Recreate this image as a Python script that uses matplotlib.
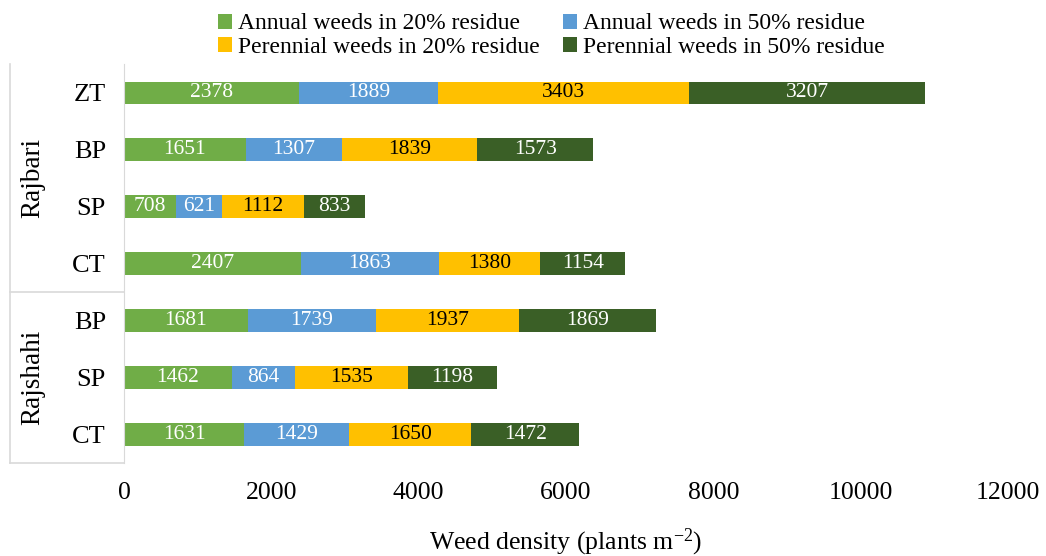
import numpy as np
import matplotlib
matplotlib.use("Agg")
import matplotlib.pyplot as plt
from matplotlib.lines import Line2D

plt.rcParams['font.family'] = ['Liberation Serif', 'DejaVu Serif']
plt.rcParams['mathtext.fontset'] = 'custom'
plt.rcParams['mathtext.rm'] = 'Liberation Serif'
plt.rcParams['mathtext.default'] = 'regular'

# ==========================================
# Données (de haut en bas)
# ==========================================
tillage = ["ZT", "BP", "SP", "CT", "BP", "SP", "CT"]
sites = ["Rajbari", "Rajshahi"]
site_rows = [4, 3]

annual_20 = [2378, 1651, 708, 2407, 1681, 1462, 1631]
annual_50 = [1889, 1307, 621, 1863, 1739, 864, 1429]
perennial_20 = [3403, 1839, 1112, 1380, 1937, 1535, 1650]
perennial_50 = [3207, 1573, 833, 1154, 1869, 1198, 1472]

series_names = ["Annual weeds in 20% residue", "Annual weeds in 50% residue",
                "Perennial weeds in 20% residue", "Perennial weeds in 50% residue"]
series = [annual_20, annual_50, perennial_20, perennial_50]
colors = ["#70AD47", "#5B9BD5", "#FFC000", "#3A5F26"]
text_colors = ["white", "white", "black", "white"]

# ==========================================
# Figure
# ==========================================
fig = plt.figure(figsize=(10.46, 5.56), dpi=100)
ax = fig.add_axes([0.1185, 0.168, 0.8452, 0.716])

y = np.arange(len(tillage))
left = np.zeros(len(tillage))
handles = []
for name, vals, col, tcol in zip(series_names, series, colors, text_colors):
    vals = np.array(vals, dtype=float)
    bars = ax.barh(y, vals, left=left, height=0.4, color=col, label=name)
    ax.bar_label(bars, labels=[str(int(v)) for v in vals], label_type="center",
                 color=tcol, fontsize=15.5)
    handles.append(bars)
    left += vals

ax.set_xlim(0, 12000)
ax.set_ylim(len(tillage) - 0.5, -0.5)
ax.set_xticks(np.arange(0, 12001, 2000))
ax.set_yticks(y)
ax.set_yticklabels(tillage, fontsize=19)
ax.tick_params(axis="x", labelsize=18.5, length=0, pad=14)
ax.tick_params(axis="y", length=0, pad=13)
for s in ["top", "right", "bottom"]:
    ax.spines[s].set_visible(False)
ax.spines["left"].set_color("#D9D9D9")
ax.set_xlabel("Weed density (plants m$^{-2}$)", fontsize=18.5, labelpad=16)

# boîtes des sites
x_out = 10 / 1046
x_ax = 0.1185
y_top = 0.884
y_bot = 0.168
row_h = (y_top - y_bot) / len(tillage)
lc = "#D9D9D9"
fig.add_artist(Line2D([x_out, x_out], [y_bot, y_top], color=lc, lw=1.2))
fig.add_artist(Line2D([x_out, x_ax], [y_bot, y_bot], color=lc, lw=1.2))
start = 0
for site, n in zip(sites, site_rows):
    y_hi = y_top - start * row_h
    y_lo = y_top - (start + n) * row_h
    if start > 0:
        fig.add_artist(Line2D([x_out, x_ax], [y_hi, y_hi], color=lc, lw=1.2))
    fig.text(33 / 1046, (y_hi + y_lo) / 2, site, rotation=90, fontsize=19.5,
             ha="center", va="center")
    start += n

# légende remplie ligne par ligne
order = [0, 2, 1, 3]
fig.legend(handles=[handles[i] for i in order], labels=[series_names[i] for i in order],
           loc="upper center", bbox_to_anchor=(0.527, 1.01), ncol=2, frameon=False,
           fontsize=17, handlelength=0.6, handleheight=0.6, handletextpad=0.25,
           columnspacing=1.0, labelspacing=0.1, borderpad=0.3)

fig.savefig("out.png", dpi=100)
